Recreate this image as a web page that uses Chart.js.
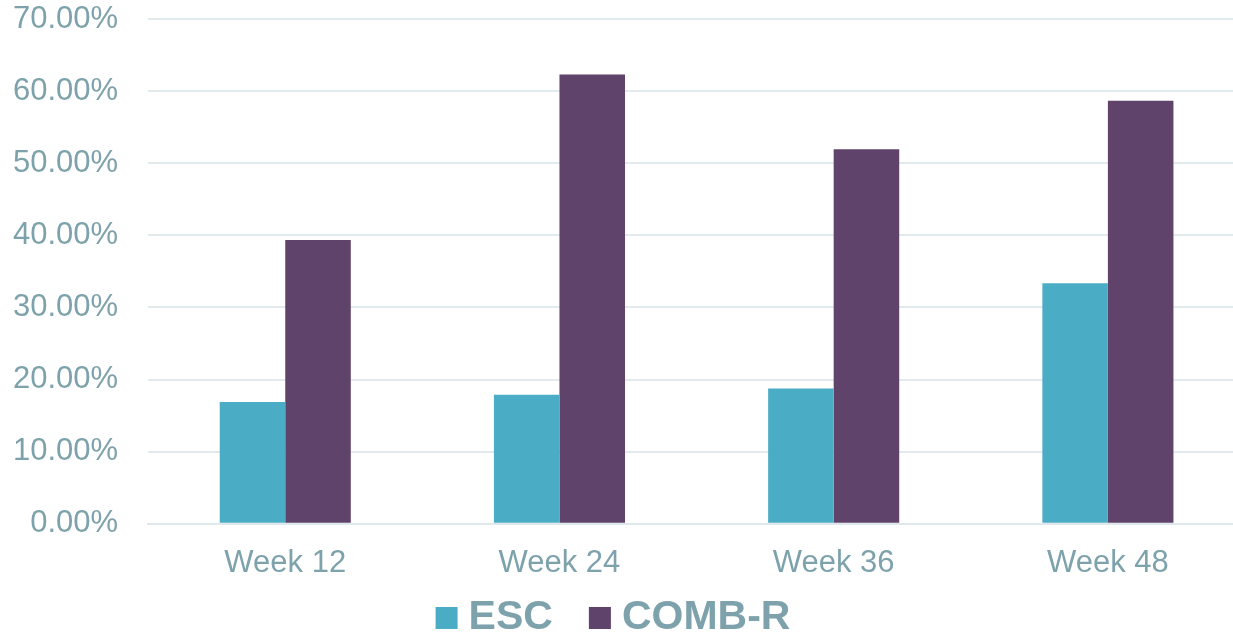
<!DOCTYPE html>
<html>
<head>
<meta charset="utf-8">
<script src="https://cdn.jsdelivr.net/npm/chart.js@4/dist/chart.umd.min.js"></script>
<style>
  html, body { margin: 0; padding: 0; background: #fff; overflow: hidden; }
  /* the original plot runs a little past the right edge of the picture */
  #wrap { width: 1245px; height: 636px; }
</style>
</head>
<body>
<div id="wrap"><canvas id="chart"></canvas></div>
<script>
const categories = ['Week 12', 'Week 24', 'Week 36', 'Week 48']
const escValues = [16.9, 17.9, 18.75, 33.35]
const combValues = [39.35, 62.3, 51.95, 58.65]
const yTicks = [0, 10, 20, 30, 40, 50, 60, 70]

const textColor = '#7da2ac'
const fontFamily = '"Liberation Sans", Arial, sans-serif'

// legend drawn by hand so the box/text spacing matches the original
const bottomLegend = {
  id: 'bottomLegend',
  afterDraw(chart) {
    const ctx = chart.ctx
    const box = 22, boxGap = 11, itemGap = 36
    ctx.save()
    ctx.font = 'bold 41px ' + fontFamily
    ctx.textBaseline = 'middle'
    const items = chart.data.datasets.map(ds => ({
      text: ds.label,
      color: ds.backgroundColor,
      w: ctx.measureText(ds.label).width
    }))
    const total = items.reduce((s, it) => s + box + boxGap + it.w, 0) + itemGap * (items.length - 1)
    let x = 613 - total / 2
    const cy = 618
    items.forEach(it => {
      ctx.fillStyle = it.color
      ctx.fillRect(x, cy - box / 2, box, box)
      x += box + boxGap
      ctx.fillStyle = textColor
      ctx.fillText(it.text, x, cy)
      x += it.w + itemGap
    })
    ctx.restore()
  }
}

new Chart(document.getElementById('chart'), {
  type: 'bar',
  data: {
    labels: categories,
    datasets: [
      { label: 'ESC', data: escValues, backgroundColor: '#4bacc6' },
      { label: 'COMB-R', data: combValues, backgroundColor: '#5f436a' }
    ]
  },
  plugins: [bottomLegend],
  options: {
    responsive: true,
    maintainAspectRatio: false,
    animation: false,
    layout: { padding: { top: 19, right: 0, left: -17, bottom: 41 } },
    datasets: { bar: { categoryPercentage: 0.478, barPercentage: 1 } },
    plugins: {
      tooltip: { enabled: false },
      legend: { display: false }
    },
    scales: {
      x: {
        grid: { display: false },
        border: { display: true, color: '#dfe8eb', width: 2 },
        ticks: {
          color: textColor,
          font: { family: fontFamily, size: 31 },
          padding: 13
        }
      },
      y: {
        min: 0,
        max: 70,
        afterBuildTicks: axis => { axis.ticks = yTicks.map(v => ({ value: v })) },
        afterFit: axis => { axis.paddingTop = 0 },
        grid: { color: '#e3eaed', lineWidth: 2, drawTicks: false },
        border: { display: false },
        ticks: {
          color: textColor,
          font: { family: fontFamily, size: 31 },
          padding: 30,
          callback: v => v.toFixed(2) + '%'
        }
      }
    }
  }
})
</script>
</body>
</html>
